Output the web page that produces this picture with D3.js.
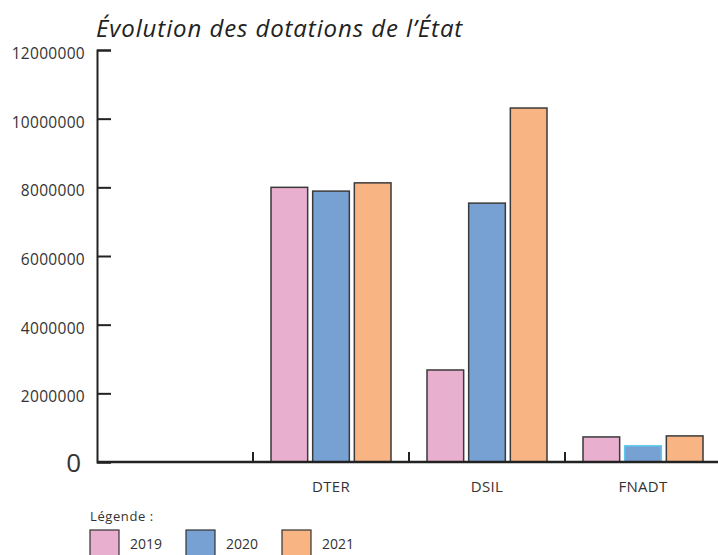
<!DOCTYPE html>
<html>
<head>
<meta charset="utf-8">
<script src="https://cdn.jsdelivr.net/npm/d3@7"></script>
<style>
  body { margin: 0; background: #fff; }
  svg { font-family: "Open Sans", sans-serif; }
</style>
</head>
<body>
<div id="chart"></div>
<script>
// data
var categories = ["", "DTER", "DSIL", "FNADT"];
var years = ["2019", "2020", "2021"];
var values2019 = [null, 8000000, 2680000, 730000];
var values2020 = [null, 7890000, 7540000, 470000];
var values2021 = [null, 8130000, 10310000, 760000];
var yTicks = [0, 2000000, 4000000, 6000000, 8000000, 10000000, 12000000];

var colors = { "2019": "#e9afce", "2020": "#78a1d3", "2021": "#f9b483" };

var svgWidth = 718, svgHeight = 555;
var svg = d3.select("#chart").append("svg")
  .attr("width", svgWidth)
  .attr("height", svgHeight);

var x0 = d3.scaleBand().domain(categories).range([97, 721]);
var x1 = d3.scaleBand().domain(years).range([18, 138]).paddingInner(0.12);
var y = d3.scaleLinear().domain([0, 12000000]).range([462, 50]);

// title
svg.append("text")
  .attr("x", 96).attr("y", 37)
  .attr("font-size", 24)
  .attr("font-style", "italic")
  .attr("letter-spacing", 0.9)
  .attr("fill", "#222")
  .text("Évolution des dotations de l’État");

// y axis
var yAxis = svg.append("g")
  .attr("transform", "translate(97,0)")
  .call(d3.axisRight(y).tickValues(yTicks).tickSize(14).tickFormat(""));
yAxis.select(".domain").attr("stroke", "#222").attr("stroke-width", 2);
yAxis.selectAll(".tick line").attr("stroke", "#222").attr("stroke-width", 2);

svg.append("g").selectAll("text")
  .data(yTicks.filter(d => d > 0))
  .enter().append("text")
  .attr("x", 85)
  .attr("y", d => y(d) + 9)
  .attr("text-anchor", "end")
  .attr("font-size", 15.5)
  .attr("letter-spacing", 0.3)
  .attr("fill", "#333")
  .text(d => d);

svg.append("text")
  .attr("x", 81).attr("y", y(0) + 10)
  .attr("text-anchor", "end")
  .attr("font-size", 26)
  .attr("fill", "#333")
  .text("0");

// bars
var series = [values2019, values2020, values2021];
var barData = [];
categories.forEach(function(c, i) {
  years.forEach(function(yr, j) {
    if (series[j][i] != null) barData.push({ cat: c, year: yr, value: series[j][i] });
  });
});

svg.append("g").selectAll("rect")
  .data(barData)
  .enter().append("rect")
  .attr("x", d => x0(d.cat) + x1(d.year))
  .attr("y", d => y(d.value))
  .attr("width", x1.bandwidth())
  .attr("height", d => y(0) - y(d.value))
  .attr("fill", d => colors[d.year])
  .attr("stroke", d => (d.cat === "FNADT" && d.year === "2020") ? "#5cc6ee" : "#3a3a3a")
  .attr("stroke-width", 1.5);

// x axis: baseline with inward ticks at band edges
var xg = svg.append("g");
xg.append("line")
  .attr("x1", 97).attr("x2", 718)
  .attr("y1", y(0)).attr("y2", y(0))
  .attr("stroke", "#222").attr("stroke-width", 2.5);
xg.selectAll(".xt")
  .data(categories.slice(1))
  .enter().append("line")
  .attr("x1", d => x0(d)).attr("x2", d => x0(d))
  .attr("y1", y(0)).attr("y2", y(0) - 10)
  .attr("stroke", "#222").attr("stroke-width", 2);
xg.selectAll(".xl")
  .data(categories.slice(1))
  .enter().append("text")
  .attr("x", d => x0(d) + x0.bandwidth() / 2)
  .attr("y", 492)
  .attr("text-anchor", "middle")
  .attr("font-size", 15)
  .attr("letter-spacing", 0.3)
  .attr("fill", "#333")
  .text(d => d);

// legend
var legend = svg.append("g");
legend.append("text")
  .attr("x", 90).attr("y", 521)
  .attr("font-size", 13)
  .attr("letter-spacing", 0.6)
  .attr("fill", "#333")
  .text("Légende :");
var legendX = [90, 186, 282];
var item = legend.selectAll(".item")
  .data(years)
  .enter().append("g")
  .attr("transform", (d, i) => `translate(${legendX[i]},530)`);
item.append("rect")
  .attr("width", 29).attr("height", 30)
  .attr("fill", d => colors[d])
  .attr("stroke", "#333").attr("stroke-width", 1.2);
item.append("text")
  .attr("x", 40).attr("y", 19)
  .attr("font-size", 14)
  .attr("fill", "#333")
  .text(d => d);
</script>
</body>
</html>
